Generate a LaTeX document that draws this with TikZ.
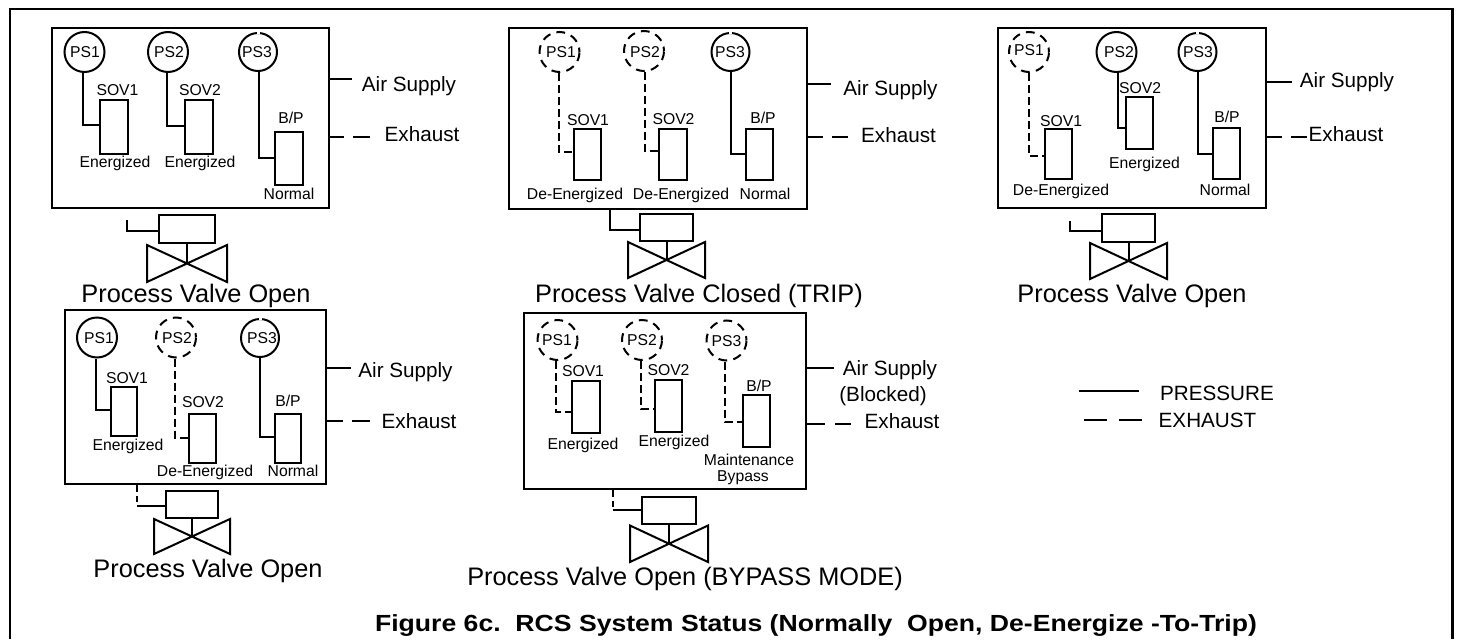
\documentclass[tikz,border=0pt]{standalone}
\usepackage{fontspec}
\setmainfont{Liberation Sans}
\usetikzlibrary{calc}
\tikzset{
  x=0.75pt,y=-0.75pt,
  panelbox/.style={draw,line width=1.5pt,inner sep=0pt,rectangle},
  sovbox/.style={draw,line width=1.5pt,inner sep=0pt,rectangle},
  gauge/.style={draw,line width=1.5pt,circle,inner sep=0pt,minimum size=30pt},
  gaugethree/.style={gauge,minimum size=28.5pt},
  gaugeoff/.style={gauge,dash pattern=on 6.6pt off 4.7pt,dash phase=3.3pt},
  pipeon/.style={line width=1.5pt},
  pipeoff/.style={line width=1.5pt,dash pattern=on 6pt off 3pt},
  txt/.style={inner sep=0pt,text depth=0pt,align=center},
  small/.style={txt,text height=8.5pt,font=\fontsize{11.8}{13}\selectfont},
  medium/.style={txt,text height=11.1pt,font=\fontsize{15.5}{17}\selectfont},
  large/.style={txt,text height=13.7pt,font=\fontsize{19}{20}\selectfont},
  caption/.style={txt,text height=12.6pt,font=\fontsize{17.5}{19}\selectfont\bfseries},
}
% name, x1, y1, x2, y2, style
\newcommand\bx[6]{\node[#6,minimum width={(#4-#2)*0.75pt},minimum height={(#5-#3)*0.75pt}] (#1) at ({(#2+#4)/2},{(#3+#5)/2}) {};}
% name, x, y, style, text, text x, text y
\newcommand\gaugeN[7]{\node[#4] (#1) at (#2,#3) {}; \node[small] (#1t) at (#6,#7) {#5};}
% gap at the top of a solid gauge
\newcommand\gaugegap[1]{\draw[white,line width=2.6pt] ($(#1.north)+(-1.5,0)$) -- ($(#1.north)+(1.5,0)$);}
% name, style, gauge, box, x, y
\newcommand\pipe[6]{\coordinate (#1) at (#5,#6); \draw[#2] (#3.south -| #1) -- (#1) -- (#4.west |- #1);}
% name, box, y, x2
\newcommand\airline[4]{\coordinate (#1) at (#4,#3); \draw[pipeon] (#2.east |- #1) -- (#1);}
% name, box, y, x2, x3, x4
\newcommand\exhline[6]{\coordinate (#1a) at (#4,#3); \coordinate (#1b) at (#5,#3); \coordinate (#1c) at (#6,#3);
  \draw[pipeon] (#2.east |- #1a) -- (#1a); \draw[pipeon] (#1b) -- (#1c);}
% name, left, top, right, bottom, cx, cy
\newcommand\valve[7]{\coordinate (#1) at (#6,#7);
  \coordinate (#1lt) at (#2,#3); \coordinate (#1rb) at (#4,#5); \coordinate (#1rt) at (#4,#3); \coordinate (#1lb) at (#2,#5);
  \draw[line width=1.5pt,line join=miter] (#1lt) -- (#1rb) -- (#1rt) -- (#1lb) -- cycle;}
\begin{document}
\begin{tikzpicture}
\useasboundingbox (0,0) rectangle (1460,639);
% frame
\coordinate (fbl) at (10,639); \coordinate (ftl) at (10,9); \coordinate (ftr) at (1452.5,9); \coordinate (fbr) at (1452.5,639);
\draw[line width=1.9pt] (fbl) -- (ftl) -- (ftr) -- (fbr);

% ---------- Panel A
\bx{a}{52}{28}{329}{208}{panelbox}
\gaugeN{aP1}{84.5}{52}{gauge}{PS1}{85}{52}
\gaugeN{aP2}{168}{52}{gauge}{PS2}{169}{52}
\gaugeN{aP3}{258}{52}{gaugethree}{PS3}{257}{52}
\gaugegap{aP3}
\bx{aS1}{100}{100}{128}{154}{sovbox}
\bx{aS2}{185}{100}{213}{154}{sovbox}
\bx{aB}{275}{132}{303}{185}{sovbox}
\pipe{aq1}{pipeon}{aP1}{aS1}{83}{125}
\pipe{aq2}{pipeon}{aP2}{aS2}{167}{126}
\pipe{aq3}{pipeon}{aP3}{aB}{259}{158}
\node[small] (aL1) at (117.5,89.5) {SOV1};
\node[small] (aL2) at (200,89.5) {SOV2};
\node[small] (aL3) at (291,118) {B/P};
\node[small] (aL4) at (115,162) {Energized};
\node[small] (aL5) at (200,162) {Energized};
\node[small] (aL6) at (289,193.5) {Normal};
\airline{aair}{a}{79}{352}
\exhline{aex}{a}{137}{344}{353}{370}
\node[medium] (aL7) at (409,84) {Air Supply};
\node[medium] (aL8) at (422,134) {Exhaust};
\bx{aA}{159}{215}{215}{243}{sovbox}
\coordinate (ast) at (127,220); \coordinate (acr) at (127,231);
\draw[pipeon] (ast) -- (acr) -- (aA.west |- acr);
\valve{aV}{147}{245}{227}{282}{187}{263}
\draw[pipeon] (aA.south) -- (aV);
\node[large] (aT) at (196,293) {Process Valve Open};

% ---------- Panel B
\bx{b}{509}{28}{807}{209}{panelbox}
\gaugeN{bP1}{559.5}{52}{gaugeoff}{PS1}{561}{52}
\gaugeN{bP2}{644}{51}{gaugeoff}{PS2}{645}{52}
\gaugeN{bP3}{730.5}{52}{gaugethree}{PS3}{730}{52}
\gaugegap{bP3}
\bx{bS1}{574}{129}{601}{180}{sovbox}
\bx{bS2}{659}{129}{687}{180}{sovbox}
\bx{bB}{746}{129}{773}{180}{sovbox}
\pipe{bq1}{pipeoff}{bP1}{bS1}{559}{152}
\pipe{bq2}{pipeoff}{bP2}{bS2}{645}{151}
\pipe{bq3}{pipeon}{bP3}{bB}{731}{154}
\node[small] (bL1) at (588,119.5) {SOV1};
\node[small] (bL2) at (673.5,118.5) {SOV2};
\node[small] (bL3) at (763,118) {B/P};
\node[small] (bL4) at (575,193.5) {De-Energized};
\node[small] (bL5) at (681,193.5) {De-Energized};
\node[small] (bL6) at (765,193.5) {Normal};
\airline{bair}{b}{84}{831}
\exhline{bex}{b}{137}{823}{832}{848}
\node[medium] (bL7) at (890.5,88) {Air Supply};
\node[medium] (bL8) at (898.5,135) {Exhaust};
\bx{bA}{640}{214}{693}{241}{sovbox}
\coordinate (bcr) at (610,230);
\draw[pipeon] (b.south -| bcr) -- (bcr) -- (bA.west |- bcr);
\valve{bV}{628}{242}{705}{278}{666.5}{259.5}
\draw[pipeon] (bA.south) -- (bV);
\node[large] (bT) at (699,293) {Process Valve Closed (TRIP)};

% ---------- Panel C
\bx{c}{998}{28}{1266}{208}{panelbox}
\gaugeN{cP1}{1029}{52}{gaugeoff}{PS1}{1029}{49.5}
\gaugeN{cP2}{1116.5}{52}{gauge}{PS2}{1119}{52}
\gaugeN{cP3}{1197.5}{52}{gaugethree}{PS3}{1198}{52}
\gaugegap{cP3}
\bx{cS1}{1045}{129}{1072}{179}{sovbox}
\bx{cS2}{1126}{97}{1153}{149}{sovbox}
\bx{cB}{1213}{128}{1240}{179}{sovbox}
\pipe{cq1}{pipeoff}{cP1}{cS1}{1029}{156}
\pipe{cq2}{pipeon}{cP2}{cS2}{1118}{128}
\pipe{cq3}{pipeon}{cP3}{cB}{1198}{154}
\node[small] (cL1) at (1061,120.5) {SOV1};
\node[small] (cL2) at (1140,87.5) {SOV2};
\node[small] (cL3) at (1227,116.5) {B/P};
\node[small] (cL4) at (1061,189.5) {De-Energized};
\node[small] (cL5) at (1144.5,162.5) {Energized};
\node[small] (cL6) at (1225,189.5) {Normal};
\airline{cair}{c}{82}{1292}
\exhline{cex}{c}{137}{1282}{1291}{1307}
\node[medium] (cL7) at (1347,80) {Air Supply};
\node[medium] (cL8) at (1346,134) {Exhaust};
\bx{cA}{1102}{214}{1155}{242}{sovbox}
\coordinate (cst) at (1070,221); \coordinate (ccr) at (1070,231);
\draw[pipeon] (cst) -- (ccr) -- (cA.west |- ccr);
\valve{cV}{1090}{243}{1167}{279}{1128.5}{261}
\draw[pipeon] (cA.south) -- (cV);
\node[large] (cT) at (1132,293) {Process Valve Open};

% ---------- Panel D
\bx{d}{65}{310}{326}{484}{panelbox}
\gaugeN{dP1}{97}{337.5}{gauge}{PS1}{99}{337.5}
\gaugeN{dP2}{176}{337.5}{gaugeoff}{PS2}{177}{337.5}
\gaugeN{dP3}{260}{338}{gaugethree}{PS3}{262}{337.5}
\gaugegap{dP3}
\bx{dS1}{111}{387}{137}{436}{sovbox}
\bx{dS2}{189}{414}{216}{463}{sovbox}
\bx{dB}{275}{414}{301}{463}{sovbox}
\pipe{dq1}{pipeon}{dP1}{dS1}{96}{410}
\pipe{dq2}{pipeoff}{dP2}{dS2}{175}{438}
\pipe{dq3}{pipeon}{dP3}{dB}{260}{437}
\node[small] (dL1) at (127,378) {SOV1};
\node[small] (dL2) at (203,401.5) {SOV2};
\node[small] (dL3) at (288,400.5) {B/P};
\node[small] (dL4) at (128,445) {Energized};
\node[small] (dL5) at (205,471) {De-Energized};
\node[small] (dL6) at (293,471) {Normal};
\airline{dair}{d}{368}{351}
\exhline{dex}{d}{421}{343}{352}{370}
\node[medium] (dL7) at (405.5,370) {Air Supply};
\node[medium] (dL8) at (419,421) {Exhaust};
\bx{dA}{166}{491}{218}{518}{sovbox}
\coordinate (dcr) at (137,506);
\draw[pipeoff,dash pattern=on 5pt off 3pt] (d.south -| dcr) -- (dcr);
\draw[pipeon] (dcr) -- (dA.west |- dcr);
\valve{dV}{154}{519}{230}{554}{192}{536}
\draw[pipeon] (dA.south) -- (dV);
\node[large] (dT) at (208,568) {Process Valve Open};

% ---------- Panel E
\bx{e}{524}{313}{806}{489}{panelbox}
\gaugeN{eP1}{557.5}{340}{gaugeoff}{PS1}{557}{339.5}
\gaugeN{eP2}{642}{340}{gaugeoff}{PS2}{642}{339.5}
\gaugeN{eP3}{726.5}{340.5}{gaugeoff}{PS3}{726.5}{340.5}
\bx{eS1}{572}{381}{600}{433}{sovbox}
\bx{eS2}{655}{380}{682}{432}{sovbox}
\bx{eB}{743}{395}{770}{447}{sovbox}
\pipe{eq1}{pipeoff}{eP1}{eS1}{556}{412}
\pipe{eq2}{pipeoff}{eP2}{eS2}{641}{409}
\pipe{eq3}{pipeoff}{eP3}{eB}{725}{422}
\node[small] (eL1) at (583,370.5) {SOV1};
\node[small] (eL2) at (668.5,369.5) {SOV2};
\node[small] (eL3) at (759,386) {B/P};
\node[small] (eL4) at (583,443.5) {Energized};
\node[small] (eL5) at (674,441) {Energized};
\node[small] (eL6) at (749,460) {Maintenance};
\node[small] (eL7) at (743,476) {Bypass};
\airline{eair}{e}{368}{834}
\exhline{eex}{e}{424}{825}{835}{851}
\node[medium] (eL8) at (890,368) {Air Supply};
\node[medium] (eL9) at (883,394) {(Blocked)};
\node[medium] (eL10) at (902,421) {Exhaust};
\bx{eA}{642}{497}{696}{524}{sovbox}
\coordinate (ecr) at (613,510);
\draw[pipeoff,dash pattern=on 5pt off 3pt] (e.south -| ecr) -- (ecr);
\draw[pipeon] (ecr) -- (eA.west |- ecr);
\valve{eV}{630}{525.5}{708}{562}{669}{544}
\draw[pipeon] (eA.south) -- (eV);
\node[large] (eT) at (685,576) {Process Valve Open (BYPASS MODE)};

% ---------- Legend
\coordinate (l1a) at (1079,391); \coordinate (l1b) at (1139,391);
\draw[pipeon] (l1a) -- (l1b);
\coordinate (l2a) at (1084,420); \coordinate (l2b) at (1107,420); \coordinate (l2c) at (1119,420); \coordinate (l2d) at (1142,420);
\draw[pipeon] (l2a) -- (l2b); \draw[pipeon] (l2c) -- (l2d);
\node[medium] (lP) at (1217,393.5) {PRESSURE};
\node[medium] (lE) at (1207.5,420.5) {EXHAUST};

% ---------- Caption
\node[caption] (cap) at (816,623.5) {\scalebox{1.14}[1]{Figure 6c.\ \ RCS System Status (Normally\ \ Open, De-Energize -To-Trip)}};
\end{tikzpicture}
\end{document}
